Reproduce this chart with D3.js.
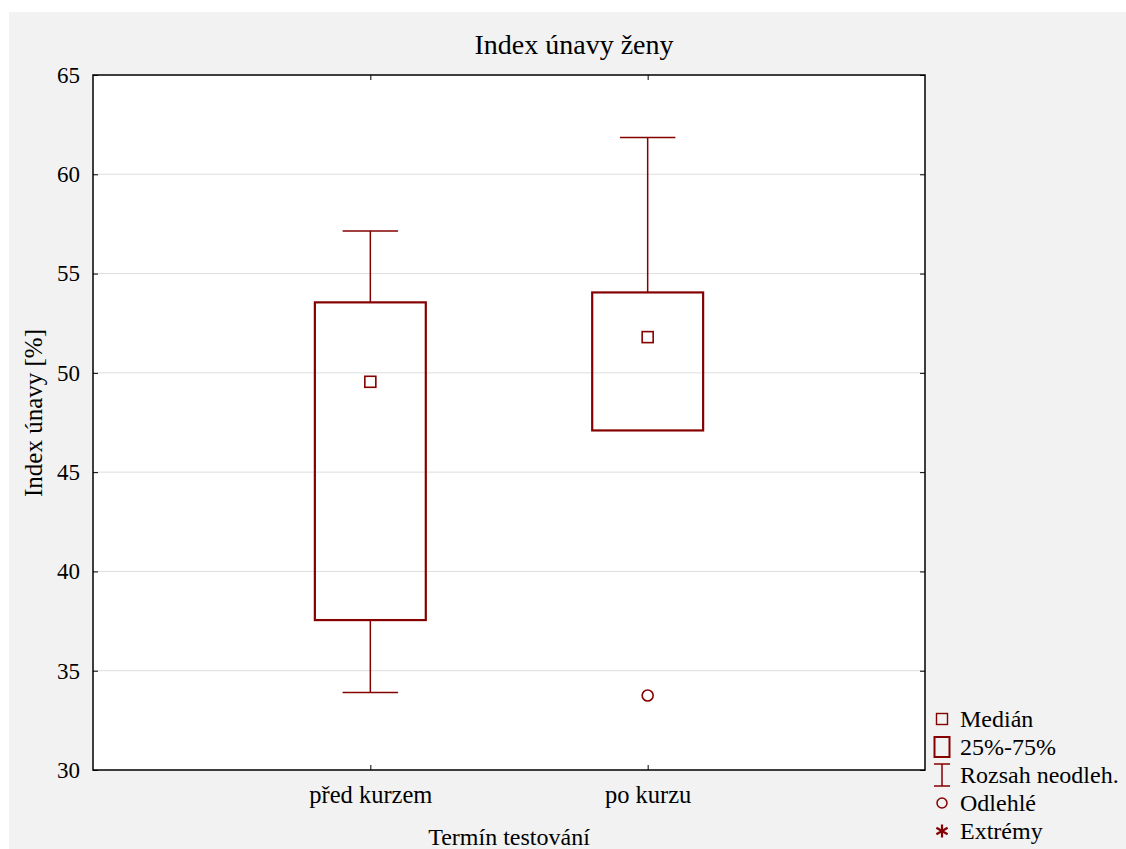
<!DOCTYPE html>
<html>
<head>
  <meta charset="UTF-8">
  <style>
    body { margin: 0; background: #fff; }
    text { font-family: "Liberation Serif", "Times New Roman", serif; fill: #000; }
  </style>
</head>
<body>
  <svg></svg>
<script src="https://d3js.org/d3.v7.min.js"></script>
<script>
    // data
    let categories = ["před kurzem", "po kurzu"];
    let medians = [49.55, 51.8];
    let q1 = [37.55, 47.1];
    let q3 = [53.55, 54.05];
    let whiskerLow = [33.9, 47.1];
    let whiskerHigh = [57.15, 61.85];
    let outliers = [[], [33.75]];
    let yTicks = [30, 35, 40, 45, 50, 55, 60, 65];
    let legendLabels = ["Medián", "25%-75%", "Rozsah neodleh.", "Odlehlé", "Extrémy"];

    let width = 1126;
    let height = 849;
    let red = "#850000";
    let serif = "Liberation Serif, Times New Roman, serif";

    let svg = d3.select("svg")
        .attr("width", width)
        .attr("height", height)
        .attr("font-family", serif);

    svg.append("rect")
        .attr("x", 9).attr("y", 12)
        .attr("width", width - 9).attr("height", height - 12)
        .attr("fill", "#f2f2f2");

    let plotL = 93, plotR = 925, plotT = 75, plotB = 770;

    let x = d3.scalePoint()
        .domain(categories)
        .range([plotL, plotR])
        .padding(1);

    let y = d3.scaleLinear()
        .domain([30, 65])
        .range([plotB, plotT]);

    svg.append("rect")
        .attr("x", plotL).attr("y", plotT)
        .attr("width", plotR - plotL).attr("height", plotB - plotT)
        .attr("fill", "#fff");

    // grid
    svg.append("g")
        .selectAll("line")
        .data(yTicks.slice(1, -1))
        .enter()
        .append("line")
        .attr("x1", plotL).attr("x2", plotR)
        .attr("y1", d => y(d)).attr("y2", d => y(d))
        .attr("stroke", "#dedede")
        .attr("stroke-width", 1);

    // axes with inner ticks
    let yAxis = svg.append("g")
        .attr("transform", "translate(" + plotL + ",0)")
        .call(d3.axisLeft(y).tickValues(yTicks).tickSize(-5).tickPadding(13))
        .attr("font-family", serif)
        .attr("font-size", 23);
    yAxis.select(".domain").remove();

    let yAxisR = svg.append("g")
        .attr("transform", "translate(" + plotR + ",0)")
        .call(d3.axisRight(y).tickValues(yTicks).tickSize(-5).tickFormat(""));
    yAxisR.select(".domain").remove();

    let xAxis = svg.append("g")
        .attr("transform", "translate(0," + plotB + ")")
        .call(d3.axisBottom(x).tickSize(-5).tickPadding(16))
        .attr("font-family", serif)
        .attr("font-size", 24.5);
    xAxis.select(".domain").remove();

    let xAxisT = svg.append("g")
        .attr("transform", "translate(0," + plotT + ")")
        .call(d3.axisTop(x).tickSize(-5).tickFormat(""));
    xAxisT.select(".domain").remove();

    svg.append("rect")
        .attr("x", plotL).attr("y", plotT)
        .attr("width", plotR - plotL).attr("height", plotB - plotT)
        .attr("fill", "none")
        .attr("stroke", "#000")
        .attr("stroke-width", 1.5);

    // boxes
    let boxW = x.step() * 0.4;
    let capW = boxW / 2;

    let groups = svg.append("g")
        .selectAll("g")
        .data(categories)
        .enter()
        .append("g");

    groups.append("line")
        .attr("x1", d => x(d)).attr("x2", d => x(d))
        .attr("y1", (d, i) => y(whiskerHigh[i])).attr("y2", (d, i) => y(q3[i]))
        .attr("stroke", red).attr("stroke-width", 1.5);
    groups.append("line")
        .attr("x1", d => x(d)).attr("x2", d => x(d))
        .attr("y1", (d, i) => y(whiskerLow[i])).attr("y2", (d, i) => y(q1[i]))
        .attr("stroke", red).attr("stroke-width", 1.5);
    groups.filter((d, i) => whiskerHigh[i] > q3[i]).append("line")
        .attr("x1", d => x(d) - capW / 2).attr("x2", d => x(d) + capW / 2)
        .attr("y1", d => y(whiskerHigh[categories.indexOf(d)]))
        .attr("y2", d => y(whiskerHigh[categories.indexOf(d)]))
        .attr("stroke", red).attr("stroke-width", 1.5);
    groups.filter((d, i) => whiskerLow[i] < q1[i]).append("line")
        .attr("x1", d => x(d) - capW / 2).attr("x2", d => x(d) + capW / 2)
        .attr("y1", d => y(whiskerLow[categories.indexOf(d)]))
        .attr("y2", d => y(whiskerLow[categories.indexOf(d)]))
        .attr("stroke", red).attr("stroke-width", 1.5);

    groups.append("rect")
        .attr("x", d => x(d) - boxW / 2)
        .attr("y", (d, i) => y(q3[i]))
        .attr("width", boxW)
        .attr("height", (d, i) => y(q1[i]) - y(q3[i]))
        .attr("fill", "none")
        .attr("stroke", red).attr("stroke-width", 2.2);

    groups.append("rect")
        .attr("x", d => x(d) - 5.5)
        .attr("y", (d, i) => y(medians[i]) - 5.5)
        .attr("width", 11).attr("height", 11)
        .attr("fill", "none")
        .attr("stroke", red).attr("stroke-width", 1.6);

    groups.each(function(d, i) {
        d3.select(this).selectAll("circle")
            .data(outliers[i])
            .enter()
            .append("circle")
            .attr("cx", x(d))
            .attr("cy", v => y(v))
            .attr("r", 5.5)
            .attr("fill", "none")
            .attr("stroke", red).attr("stroke-width", 1.6);
    });

    // titles
    svg.append("text")
        .attr("x", 574).attr("y", 54)
        .attr("text-anchor", "middle")
        .style("font-size", "28px")
        .text("Index únavy ženy");

    svg.append("text")
        .attr("x", (plotL + plotR) / 2).attr("y", 845)
        .attr("text-anchor", "middle")
        .style("font-size", "24px")
        .text("Termín testování");

    svg.append("text")
        .attr("transform", "translate(42,413) rotate(-90)")
        .attr("text-anchor", "middle")
        .style("font-size", "25px")
        .text("Index únavy [%]");

    // legend
    let legend = svg.append("g").attr("transform", "translate(942,0)");
    let rowY = d3.scalePoint().domain(legendLabels).range([719, 831]);

    legend.selectAll("text")
        .data(legendLabels)
        .enter()
        .append("text")
        .attr("x", 18)
        .attr("y", d => rowY(d) + 8)
        .style("font-size", "24px")
        .text(d => d);

    let sym = legend.append("g").attr("fill", "none").attr("stroke", red);
    sym.append("rect")
        .attr("x", -5.5).attr("y", rowY(legendLabels[0]) - 5.5)
        .attr("width", 11).attr("height", 11).attr("stroke-width", 1.4);
    sym.append("rect")
        .attr("x", -7.5).attr("y", rowY(legendLabels[1]) - 10)
        .attr("width", 15).attr("height", 20).attr("stroke-width", 2);
    let ry = rowY(legendLabels[2]);
    sym.append("path")
        .attr("d", "M-8," + (ry - 11) + "H8M0," + (ry - 11) + "V" + (ry + 11) + "M-8," + (ry + 11) + "H8")
        .attr("stroke-width", 1.5);
    sym.append("circle")
        .attr("cx", 0).attr("cy", rowY(legendLabels[3]))
        .attr("r", 5).attr("stroke-width", 1.5);
    let ay = rowY(legendLabels[4]);
    sym.append("path")
        .attr("d", "M0," + (ay - 6.5) + "V" + (ay + 6.5) +
              "M-5.6," + (ay - 3.3) + "L5.6," + (ay + 3.3) +
              "M-5.6," + (ay + 3.3) + "L5.6," + (ay - 3.3))
        .attr("stroke-width", 2.2);
</script>
</body>
</html>
